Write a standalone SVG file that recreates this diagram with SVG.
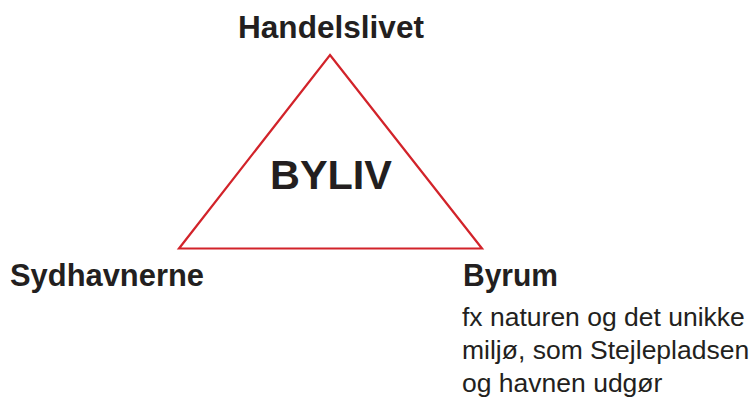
<svg xmlns="http://www.w3.org/2000/svg" width="753" height="399" viewBox="0 0 753 399">
<style>
.t{font-family:"Liberation Sans",Arial,Helvetica,sans-serif;fill:#231f20}
.b{font-weight:bold}
.tri{fill:none;stroke:#d2232a;stroke-width:2.2;stroke-linejoin:miter}
</style>
<rect width="753" height="399" fill="#ffffff"/>
<g id="connectors">
<polygon class="tri" points="330,55 482,248.5 179,248.5"/>
</g>
<g id="center">
<text class="t b" x="270" y="189" font-size="41" textLength="122" lengthAdjust="spacingAndGlyphs">BYLIV</text>
</g>
<g id="handelslivet">
<text class="t b" x="238" y="38" font-size="31.5" textLength="186" lengthAdjust="spacingAndGlyphs">Handelslivet</text>
</g>
<g id="sydhavnerne">
<text class="t b" x="10" y="286" font-size="31" textLength="194" lengthAdjust="spacingAndGlyphs">Sydhavnerne</text>
</g>
<g id="byrum">
<text class="t b" x="463" y="286" font-size="31" textLength="95" lengthAdjust="spacingAndGlyphs">Byrum</text>
<text class="t" x="462" y="326" font-size="26.5">fx naturen og det unikke</text>
<text class="t" x="462" y="359" font-size="26.5">miljø, som Stejlepladsen</text>
<text class="t" x="462" y="392" font-size="26.5">og havnen udgør</text>
</g>
</svg>
